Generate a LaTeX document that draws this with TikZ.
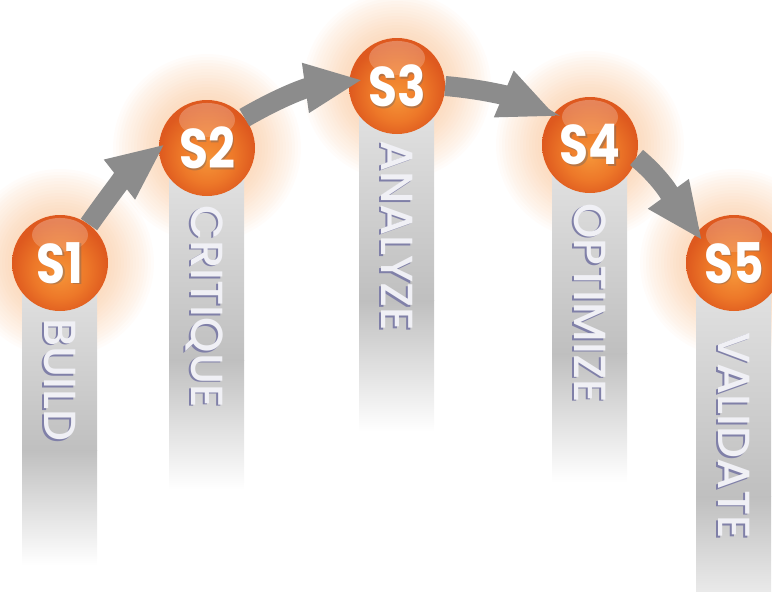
\documentclass[tikz,border=0pt]{standalone}
\usepackage{fontspec}
\setmainfont{Poppins}
\newfontfamily\capfont{Poppins Medium}
\usepackage{tikz}
\usetikzlibrary{arrows.meta}
\usetikzlibrary{fadings}
\definecolor{mgray}{rgb}{0.55, 0.55, 0.55}
\definecolor{mglow}{rgb}{0.96, 0.56, 0.22}
\definecolor{mlight}{rgb}{0.96, 0.58, 0.22}
\definecolor{mmid}{rgb}{0.93, 0.47, 0.16}
\definecolor{medge}{rgb}{0.87, 0.35, 0.12}
\definecolor{mtext}{rgb}{0.94, 0.94, 0.96}
\definecolor{mshadow}{rgb}{0.5, 0.5, 0.66}
\pgfdeclareradialshading{ballshade}{\pgfpoint{0bp}{-6bp}}{color(0bp)=(mlight); color(14bp)=(mmid); color(25bp)=(medge); color(50bp)=(medge)}
\tikzfading[name=hlfade, top color=transparent!72, bottom color=transparent!100]
\tikzset{
  ball/.style={circle, minimum size=96pt, inner sep=0, shade, shading=ballshade,
    path picture={\fill [white, path fading=hlfade] ([yshift=-20pt]path picture bounding box.north) ellipse (28 and 17);}},
  num/.style={font=\fontsize{56}{56}\selectfont\bfseries, xscale=0.84, inner sep=0, text=white},
  numshadow/.style={num, text=black!60, opacity=0.4},
  caption/.style={font=\capfont\fontsize{45}{45}\selectfont, rotate=-90, inner sep=0, anchor=base west, text=mtext},
  captionshadow/.style={caption, text=mshadow},
  flow/.style={draw=mgray, line width=20pt, -{Triangle[width=46pt, length=58pt]}}
}

\begin{document}
\begin{tikzpicture}[x=1pt, y=1pt]
  \useasboundingbox (0, 0) rectangle (772, -592);

  % glow round each ball
  \foreach \x/\y in {60/-263, 207/-148, 397/-86, 590/-145, 734/-263} {
    \foreach \r in {49, 52, ..., 94}
      \fill [mglow, opacity=0.022] (\x, \y) circle (\r);
  }

  % gray bars under the balls
  \foreach \x/\y/\e in {60/-263/-565, 207/-148/-490, 397/-86/-432, 590/-145/-482, 734/-263/-640} {
    \pgfmathsetmacro\m{\y + 0.62*(\e - \y)}
    \shade [top color=gray!20, bottom color=gray!50] (\x - 38, \y) rectangle (\x + 37, \m);
    \shade [top color=gray!50, bottom color=white] (\x - 38, \m) rectangle (\x + 37, \e);
  }

  \foreach \n/\x/\y in {1/60/-263, 2/207/-148, 3/397/-86, 4/590/-145, 5/734/-263} {
    \node [ball] (s\n) at (\x, \y) {};
    \node [numshadow] (h\n) at ([shift={(1.5pt, -1.5pt)}]s\n) {S\n};
    \node [num] (t\n) at (s\n) {S\n};
  }

  \foreach \n/\t/\d in {1/BUILD/7, 2/CRITIQUE/9, 3/ANALYZE/6, 4/OPTIMIZE/10, 5/VALIDATE/21} {
    \node [captionshadow] (cs\n) at ([xshift=-17.5pt, yshift=-\d pt - 1.5pt]s\n.south) {\t};
    \node [caption] (c\n) at ([xshift=-16pt, yshift=-\d pt]s\n.south) {\t};
  }

  \draw [flow, shorten >=-8pt] (s1.53) to [out=55, in=218] (s2.181);
  \draw [flow, shorten >=-14pt] (s2.39) to [out=30, in=188] (s3.175);
  \draw [flow, shorten >=-5pt] (s3.0) to [out=-5, in=157] (s4.141);
  \draw [flow, shorten >=-10pt] (s4.-15) to [out=-40, in=126] (s5.141);
\end{tikzpicture}
\end{document}
